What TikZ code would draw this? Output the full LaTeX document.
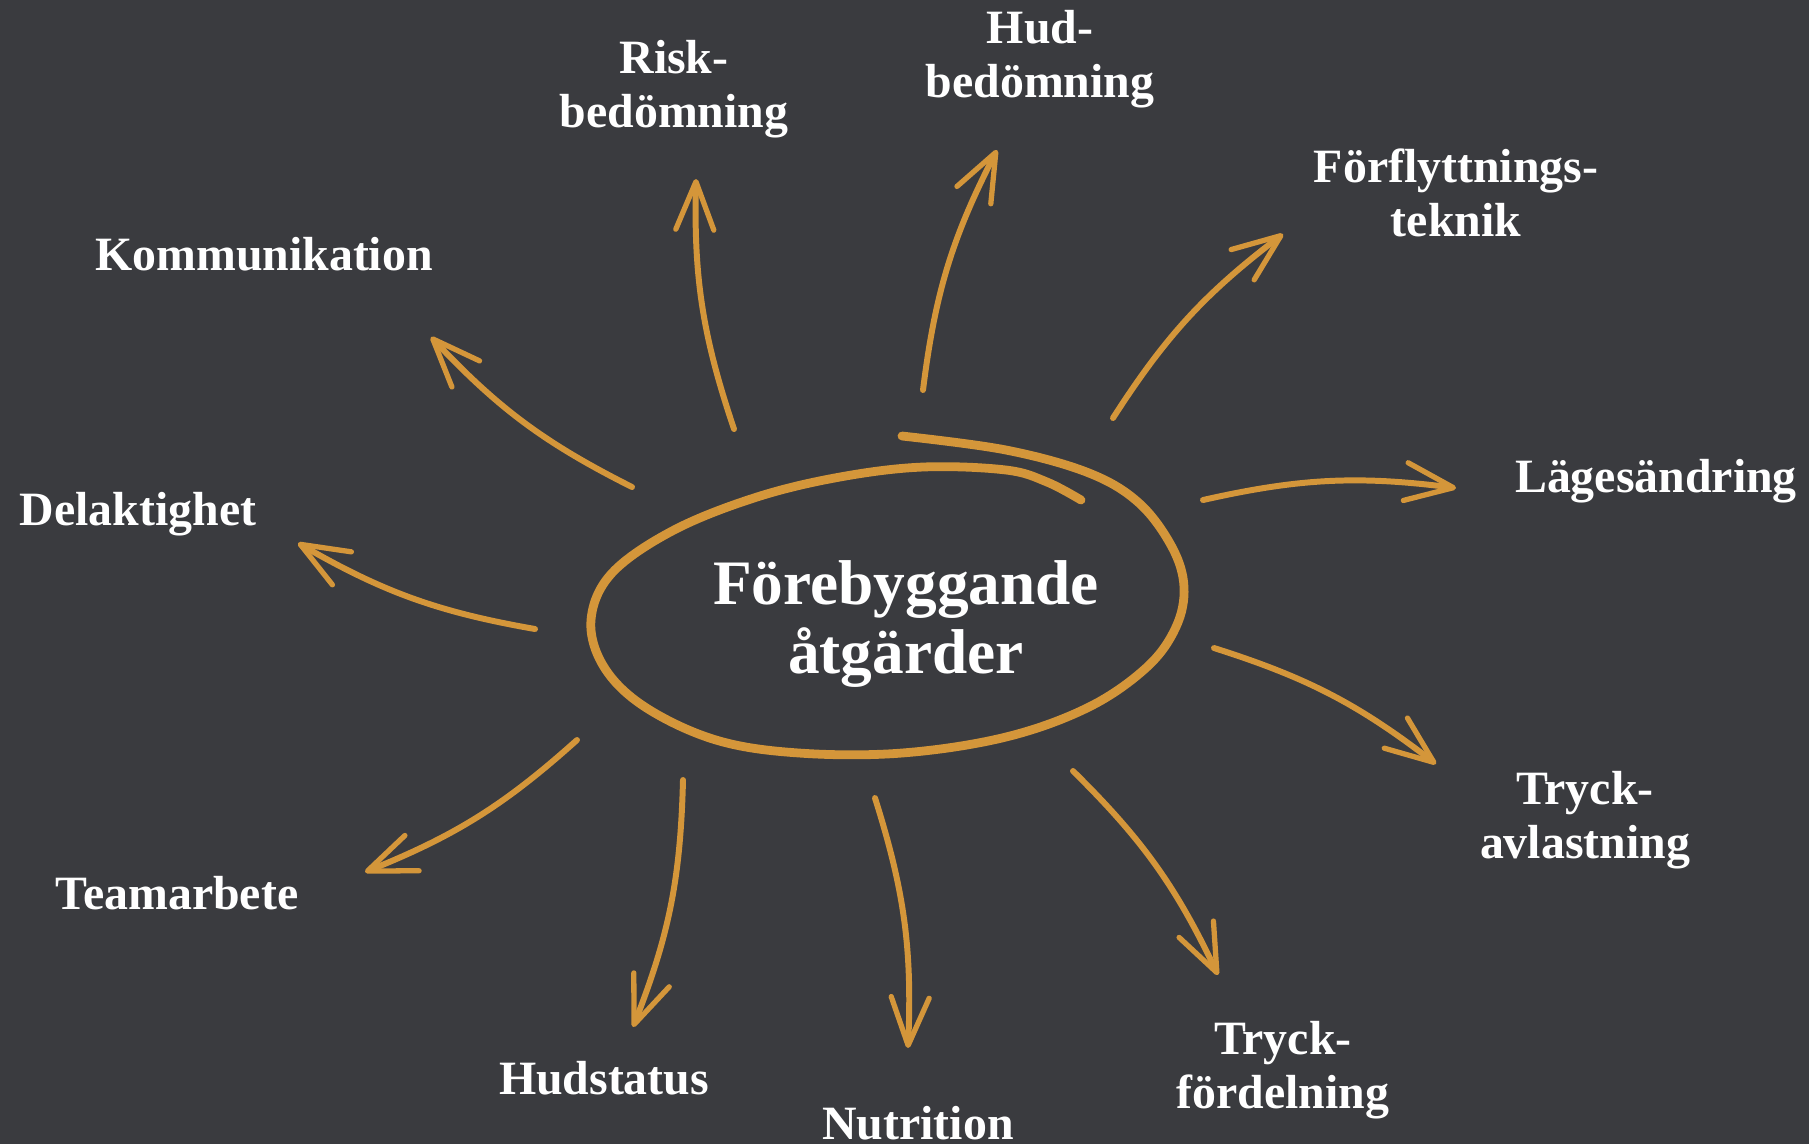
\documentclass[tikz,border=0pt]{standalone}
\usepackage{fontspec}
\setmainfont{Liberation Serif}
\usetikzlibrary{arrows.meta}

\definecolor{bgdark}{HTML}{3A3B3F}
\definecolor{ochre}{HTML}{D4963A}

\begin{document}
\begin{tikzpicture}[x=0.01cm, y=0.01cm,
    topic/.style={text=white, font=\bfseries\fontsize{13.6}{15.5}\selectfont, align=center},
    hub/.style={text=white, font=\bfseries\fontsize{18}{19.6}\selectfont, align=center},
    ray/.style={draw=ochre, line width=1.7pt, line cap=round,
        -{Straight Barb[length=4.8mm, width=3.8mm, line width=1.5pt, round]}},
    loop/.style={ochre, line cap=round, line join=round}]

    % Define how much the rays are bent.
    \pgfmathsetmacro{\bendValue}{10}

    %% ------
    %% Background and the hand drawn loop round the centre
    %% ----
    \useasboundingbox (0,0) rectangle (1809,-1144);
    \fill[bgdark] (0,0) rectangle (1809,-1144);

    \node[hub] (centre) at (906,-624) {Förebyggande\\åtgärder};

    \draw[loop, line width=2.5pt]
        plot[smooth, tension=0.6] coordinates {(1081,-500) (1047,-482) (1006,-470) (923,-467)
        (840,-477) (757,-497) (674,-530) (612,-573) (591,-620) (604,-667) (645,-707)
        (716,-740) (799,-753) (902,-753) (1006,-737) (1089,-707) (1147,-667) (1176,-627)
        (1184,-587) (1172,-547) (1139,-503) (1089,-473) (1006,-450) (902,-436)};

    %% ------
    %% Topics and their rays
    %% The nodes are positioned on fixed coordinates
    %% ----

    % Risk
    \node[topic] (risk) at (674,-89) {Risk-\\bedömning};
    \coordinate (risk-a) at (734,-429);
    \coordinate (risk-b) at (696,-179);
    \draw[ray] (risk-a) to[bend left=\bendValue] (risk-b);

    % Hud
    \node[topic] (hud) at (1040,-59) {Hud-\\bedömning};
    \coordinate (hud-a) at (923,-390);
    \coordinate (hud-b) at (997,-150);
    \draw[ray] (hud-a) to[bend left=\bendValue] (hud-b);

    % Förflyttning
    \node[topic] (flytt) at (1456,-193) {Förflyttnings-\\teknik};
    \coordinate (flytt-a) at (1113,-418);
    \coordinate (flytt-b) at (1283,-234);
    \draw[ray] (flytt-a) to[bend left=\bendValue] (flytt-b);

    % Kommunikation
    \node[topic] (komm) at (264,-254) {Kommunikation};
    \coordinate (komm-a) at (632,-487);
    \coordinate (komm-b) at (431,-337);
    \draw[ray] (komm-a) to[bend left=\bendValue] (komm-b);

    % Lägesändring
    \node[topic] (lage) at (1656,-481) {Lägesändring};
    \coordinate (lage-a) at (1203,-500);
    \coordinate (lage-b) at (1456,-488);
    \draw[ray] (lage-a) to[bend left=\bendValue] (lage-b);

    % Delaktighet
    \node[topic] (delak) at (138,-514) {Delaktighet};
    \coordinate (delak-a) at (535,-629);
    \coordinate (delak-b) at (298,-543);
    \draw[ray] (delak-a) to[bend left=\bendValue] (delak-b);

    % Tryckavlastning
    \node[topic] (avlast) at (1585,-820) {Tryck-\\avlastning};
    \coordinate (avlast-a) at (1214,-648);
    \coordinate (avlast-b) at (1436,-764);
    \draw[ray] (avlast-a) to[bend left=\bendValue] (avlast-b);

    % Teamarbete
    \node[topic] (team) at (177,-893) {Teamarbete};
    \coordinate (team-a) at (577,-740);
    \coordinate (team-b) at (365,-872);
    \draw[ray] (team-a) to[bend left=\bendValue] (team-b);

    % Hudstatus
    \node[topic] (status) at (604,-1078) {Hudstatus};
    \coordinate (status-a) at (683,-780);
    \coordinate (status-b) at (633,-1027);
    \draw[ray] (status-a) to[bend left=\bendValue] (status-b);

    % Nutrition
    \node[topic] (nutr) at (918,-1123) {Nutrition};
    \coordinate (nutr-a) at (875,-798);
    \coordinate (nutr-b) at (908,-1048);
    \draw[ray] (nutr-a) to[bend left=\bendValue] (nutr-b);

    % Tryckfördelning
    \node[topic] (fordel) at (1283,-1070) {Tryck-\\fördelning};
    \coordinate (fordel-a) at (1073,-771);
    \coordinate (fordel-b) at (1218,-975);
    \draw[ray] (fordel-a) to[bend left=\bendValue] (fordel-b);

\end{tikzpicture}
\end{document}
